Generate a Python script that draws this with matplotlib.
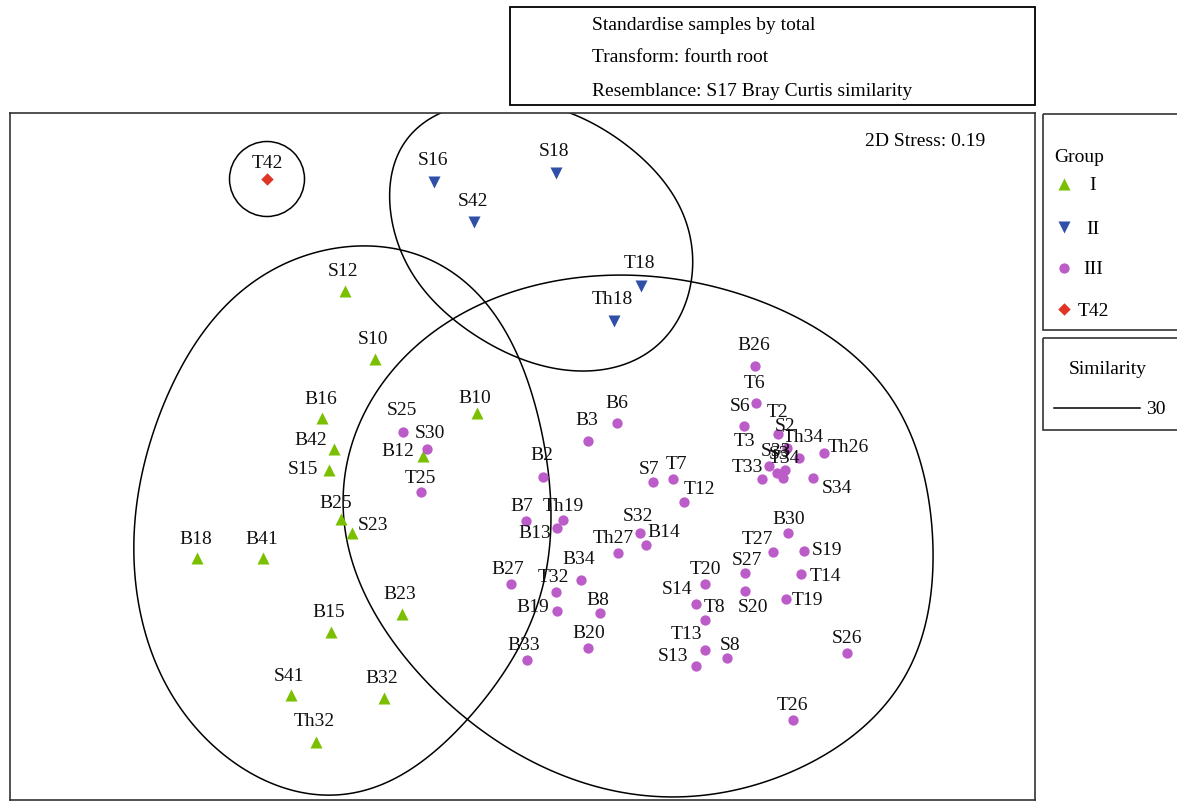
import matplotlib
matplotlib.use("Agg")
import matplotlib.pyplot as plt
from matplotlib.patches import Rectangle, Ellipse, Polygon
import numpy as np

plt.rcParams["font.family"] = ["Liberation Serif", "DejaVu Serif"]

# nMDS ordination scores (plot units, MDS2 grows downward)
group_I_names = ["S12", "S10", "B16", "B42", "S15", "B25", "S23", "B18", "B41",
                 "B15", "B23", "S41", "B32", "Th32", "B10", "B12"]
group_I_x = [345, 375, 322, 334, 329, 341, 352, 197, 263, 331, 402, 291, 384, 316, 477, 423]
group_I_y = [291, 359, 418, 449, 470, 519, 533, 558, 558, 632, 614, 695, 698, 742, 413, 456]

group_II_names = ["S16", "S18", "S42", "T18", "Th18"]
group_II_x = [434, 556, 474, 641, 614]
group_II_y = [182, 173, 222, 286, 321]

group_III_names = ["B26", "T6", "S6", "T2", "S2", "Th34", "Th26", "T3", "T33", "S33",
                   "T34", "S3", "S34", "S25", "S30", "T25", "B2", "B3", "B6", "S7",
                   "T7", "T12", "B7", "Th19", "B13", "S32", "B14", "Th27", "B34", "B27",
                   "T32", "B19", "B8", "B20", "B33", "T20", "S14", "T8", "T13", "S13",
                   "S8", "B30", "T27", "S19", "S27", "T14", "S20", "T19", "S26", "T26"]
group_III_x = [755, 756, 744, 778, 787, 799, 824, 769, 762, 777,
               785, 783, 813, 403, 427, 421, 543, 588, 617, 653,
               673, 684, 526, 563, 557, 640, 646, 618, 581, 511,
               556, 557, 600, 588, 527, 705, 696, 705, 705, 696,
               727, 788, 773, 804, 745, 801, 745, 786, 847, 793]
group_III_y = [366, 403, 426, 434, 448, 458, 453, 466, 479, 473,
               470, 478, 478, 432, 449, 492, 477, 441, 423, 482,
               479, 502, 521, 520, 528, 533, 545, 553, 580, 584,
               592, 611, 613, 648, 660, 584, 604, 620, 650, 666,
               658, 533, 552, 551, 573, 574, 591, 599, 653, 720]

t42_names = ["T42"]
t42_x = [267]
t42_y = [179]

# where each sample label sits relative to its marker (label centre - marker)
label_offset = {
    "S12": (-2, -21), "S10": (-2, -21), "B16": (-1, -20), "B42": (-23, -10),
    "S15": (-26, -2), "B25": (-5, -17), "S23": (21, -9), "B18": (-1, -20),
    "B41": (-1, -20), "B15": (-2, -21), "B23": (-2, -21), "S41": (-2, -20),
    "B32": (-2, -21), "Th32": (-2, -22), "B10": (-2, -16), "B12": (-25, -6),
    "S16": (-1, -23), "S18": (-2, -23), "S42": (-1, -22), "T18": (-2, -24),
    "Th18": (-2, -23), "T42": (0, -17),
    "B26": (-1, -22), "T6": (-1, -21), "S6": (-4, -21), "T2": (0, -23),
    "S2": (-2, -23), "Th34": (4, -22), "Th26": (24, -7), "T3": (-24, -26),
    "T33": (-15, -13), "S33": (-1, -23), "T34": (-1, -13), "S3": (-4, -25),
    "S34": (24, 9), "S25": (-1, -23), "S30": (3, -17), "T25": (-1, -15),
    "B2": (-1, -23), "B3": (-1, -22), "B6": (0, -21), "S7": (-4, -14),
    "T7": (3, -16), "T12": (16, -14), "B7": (-4, -16), "Th19": (0, -15),
    "B13": (-22, 4), "S32": (-2, -18), "B14": (18, -14), "Th27": (-5, -16),
    "B34": (-2, -22), "B27": (-3, -16), "T32": (-3, -16), "B19": (-24, -5),
    "B8": (-2, -14), "B20": (1, -16), "B33": (-3, -16), "T20": (0, -16),
    "S14": (-19, -16), "T8": (10, -14), "T13": (-19, -17), "S13": (-23, -11),
    "S8": (3, -14), "B30": (1, -15), "T27": (-16, -14), "S19": (23, -2),
    "S27": (2, -14), "T14": (24, 1), "S20": (8, 15), "T19": (21, 0),
    "S26": (0, -16), "T26": (-1, -16),
}

# similarity (30%) contours, traced as closed outlines
contour_I = [(372, 245), (403, 250), (440, 265), (485, 302), (520, 360), (540, 425),
             (550, 495), (550, 550), (537, 603), (508, 668), (472, 714), (425, 758),
             (375, 788), (327, 796), (253, 774), (197, 730), (160, 671), (140, 616),
             (135, 542), (140, 480), (163, 406), (203, 333), (253, 281), (300, 258)]
contour_II = [(440, 114), (405, 140), (391, 185), (395, 235), (420, 285), (470, 332),
              (530, 362), (580, 371), (635, 360), (672, 330), (690, 285), (690, 235),
              (670, 190), (630, 148), (575, 115), (505, 100)]
contour_III = [(540, 285), (621, 275), (689, 280), (778, 310), (846, 348), (891, 397),
               (922, 468), (933, 566), (922, 636), (891, 699), (846, 741), (778, 776),
               (711, 795), (650, 797), (577, 780), (509, 748), (453, 708), (387, 634),
               (353, 561), (343, 506), (350, 450), (387, 377), (453, 318)]

GREEN = "#7ac000"
BLUE = "#2f4fa8"
PURPLE = "#bb5cc8"
RED = "#e03424"
TXT_DY = 2  # nudge so cap height, not the descender box, is centred


def closed_curve(pts, n=40, n_out=720, harmonics=6):
    """Catmull-Rom loop through pts, resampled by arc length and
    low-pass filtered so the outline stays smooth."""
    p = np.asarray(pts, dtype=float)
    m = len(p)
    t = np.linspace(0, 1, n, endpoint=False)[:, None]
    segs = []
    for i in range(m):
        p0, p1, p2, p3 = p[i - 1], p[i], p[(i + 1) % m], p[(i + 2) % m]
        segs.append(0.5 * (2 * p1 + (p2 - p0) * t
                           + (2 * p0 - 5 * p1 + 4 * p2 - p3) * t ** 2
                           + (3 * p1 - p0 - 3 * p2 + p3) * t ** 3))
    c = np.vstack(segs)
    c = np.vstack([c, c[:1]])
    d = np.r_[0, np.cumsum(np.hypot(*np.diff(c, axis=0).T))]
    s = np.linspace(0, d[-1], n_out, endpoint=False)
    z = np.interp(s, d, c[:, 0]) + 1j * np.interp(s, d, c[:, 1])
    Z = np.fft.fft(z)
    k = np.fft.fftfreq(n_out, 1 / n_out)
    Z[np.abs(k) > harmonics] = 0
    z = np.fft.ifft(Z)
    return np.column_stack([z.real, z.imag])


fig = plt.figure(figsize=(11.77, 8.01), dpi=100)
W, H = 1177, 801
ax = fig.add_axes([10 / W, 1 - 800 / H, 1025 / W, 687 / H])
ax.set_xlim(10, 1035)
ax.set_ylim(800, 113)
ax.set_xticks([])
ax.set_yticks([])
for sp in ax.spines.values():
    sp.set_color("#333333")
    sp.set_linewidth(1.2)

for c in (contour_I, contour_II, contour_III):
    ax.add_patch(Polygon(closed_curve(c), closed=True, fill=False, ec="black",
                         lw=1.1, joinstyle="round", zorder=1))
ax.add_patch(Ellipse((t42_x[0], t42_y[0]), 75, 75, fill=False, ec="black", lw=1.1, zorder=1))

groups = [
    (group_I_names, group_I_x, group_I_y, "^", GREEN, 75),
    (group_II_names, group_II_x, group_II_y, "v", BLUE, 75),
    (group_III_names, group_III_x, group_III_y, "o", PURPLE, 55),
    (t42_names, t42_x, t42_y, "D", RED, 40),
]
for names, xs, ys, mk, col, size in groups:
    ax.scatter(xs, ys, marker=mk, s=size, color=col, linewidths=0, zorder=3)
    for nm, x, y in zip(names, xs, ys):
        dx, dy = label_offset.get(nm, (0, -20))
        ax.text(x + dx, y + dy + TXT_DY, nm, ha="center", va="center", fontsize=14,
                color="#111111", zorder=4)

ax.text(865, 140 + TXT_DY, "2D Stress: 0.19", ha="left", va="center", fontsize=14)

# header box and legends in figure pixel space
ov = fig.add_axes([0, 0, 1, 1])
ov.set_xlim(0, W)
ov.set_ylim(H, 0)
ov.axis("off")
ov.patch.set_alpha(0)

ov.add_patch(Rectangle((510, 7), 525, 98, fill=False, ec="black", lw=1.3))
for yy, line in zip([24, 56, 90], ["Standardise samples by total",
                                   "Transform: fourth root",
                                   "Resemblance: S17 Bray Curtis similarity"]):
    ov.text(592, yy + TXT_DY, line, ha="left", va="center", fontsize=14)

ov.add_patch(Rectangle((1043, 114), 160, 216, fill=False, ec="#333333", lw=1.2))
ov.text(1054, 155 + TXT_DY, "Group", ha="left", va="center", fontsize=14)
legend_rows = [("^", GREEN, 75, "I", 184), ("v", BLUE, 75, "II", 227),
               ("o", PURPLE, 55, "III", 268), ("D", RED, 40, "T42", 309)]
for mk, col, size, txt, yy in legend_rows:
    ov.scatter([1064], [yy], marker=mk, s=size, color=col, linewidths=0)
    ov.text(1093, yy + TXT_DY, txt, ha="center", va="center", fontsize=14)

ov.add_patch(Rectangle((1043, 338), 160, 92, fill=False, ec="#333333", lw=1.2))
ov.text(1108, 368 + TXT_DY, "Similarity", ha="center", va="center", fontsize=14)
ov.plot([1054, 1140], [408, 408], color="black", lw=1.1)
ov.text(1146, 408 + TXT_DY, "30", ha="left", va="center", fontsize=14)

fig.savefig("out.png", dpi=100)
